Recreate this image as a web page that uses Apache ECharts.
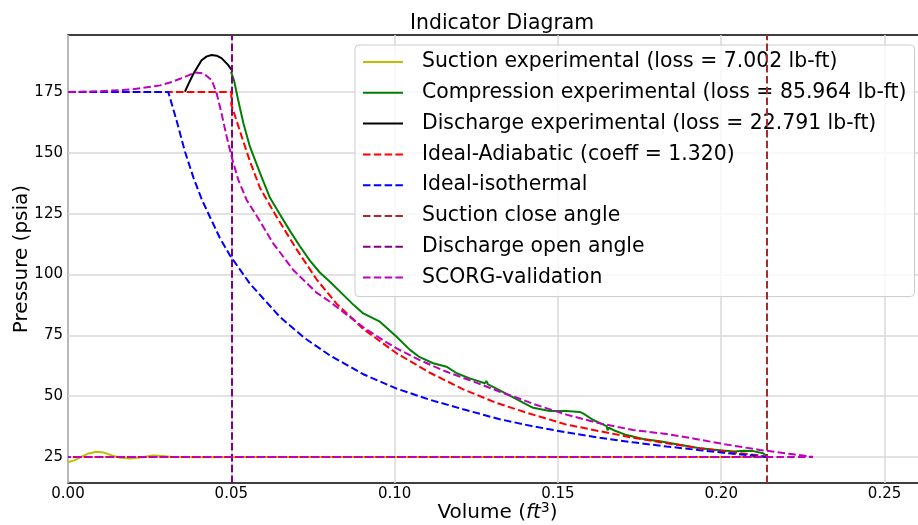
<!DOCTYPE html>
<html>
<head>
<meta charset="utf-8">
<script src="https://cdn.jsdelivr.net/npm/echarts@6/dist/echarts.min.js"></script>
<style>html,body{margin:0;padding:0;background:#fff}#c{width:918px;height:525px}</style>
</head>
<body>
<div id="c"></div>
<script>
// ---- data (volume ft^3, pressure psia) ----
const titleText = 'Indicator Diagram';
const seriesNames = [
  'Suction experimental (loss = 7.002 lb-ft)',
  'Compression experimental (loss = 85.964 lb-ft)',
  'Discharge experimental (loss = 22.791 lb-ft)',
  'Ideal-Adiabatic (coeff = 1.320)',
  'Ideal-isothermal',
  'Suction close angle',
  'Discharge open angle',
  'SCORG-validation'
];
const yTicks = [25, 50, 75, 100, 125, 150, 175];
const xTicks = [0, 0.05, 0.10, 0.15, 0.20, 0.25];

const suctionExp = [[0,22.9],[0.002,23.6],[0.004,25.0],[0.006,26.3],[0.0088,27.1],[0.011,26.8],[0.0135,25.6],[0.016,24.7],[0.019,24.4],[0.022,24.8],[0.026,25.6],[0.029,25.4],[0.032,25.0],[0.04,24.9],[0.06,25.0],[0.10,25.0],[0.15,25.0],[0.2139,25.0]];

const compressionExp = [[0.0499,183.3],[0.0508,179.9],[0.0521,171.7],[0.0537,162.1],[0.0557,152.5],[0.0588,141.6],[0.0618,131.6],[0.0649,124.6],[0.0680,117.8],[0.0710,111.6],[0.0740,105.8],[0.0771,100.8],[0.0802,97.0],[0.0843,91.6],[0.0875,87.4],[0.0904,84.0],[0.0955,80.6],[0.1006,74.4],[0.1047,69.0],[0.1077,66.0],[0.1118,63.5],[0.1159,62.1],[0.1190,59.4],[0.1230,57.3],[0.1276,55.3],[0.1281,56.2],[0.1286,54.8],[0.1322,52.4],[0.1373,48.8],[0.1424,45.2],[0.1475,43.9],[0.1526,43.9],[0.1567,43.5],[0.1577,42.9],[0.1608,40.2],[0.1649,37.7],[0.1652,36.0],[0.1656,37.0],[0.1669,36.1],[0.1710,34.0],[0.1761,32.4],[0.1812,31.5],[0.1873,30.0],[0.1934,28.6],[0.1996,27.8],[0.2040,27.2],[0.2070,27.6],[0.2098,27.4],[0.2128,26.5],[0.2139,25.5]];

const dischargeExp = [[0.0358,175.1],[0.0370,178.6],[0.0384,182.5],[0.0409,188.0],[0.0425,189.6],[0.0440,190.2],[0.0455,189.9],[0.0470,188.9],[0.0490,186.1],[0.0501,184.0]];

const adiabatic = [[0,175],[0.05,175],[0.05,169.8],[0.0532,156.6],[0.0557,146.5],[0.0588,135.5],[0.0639,123.6],[0.0700,110.3],[0.0761,98.0],[0.0822,88.0],[0.0873,81.6],[0.0904,77.6],[0.1006,67.6],[0.1108,59.6],[0.1210,52.8],[0.1312,47.2],[0.1404,43.2],[0.1526,38.3],[0.1628,35.6],[0.1730,32.9],[0.1833,30.6],[0.1934,28.6],[0.2016,27.2],[0.2118,25.6],[0.2139,25.0],[0,25.0]];

const isothermal = [[0,175],[0.0307,175],[0.0333,163.0],[0.0358,150.5],[0.0384,139.8],[0.0409,131.0],[0.0435,123.5],[0.0465,115.0],[0.0496,107.8],[0.0557,96.2],[0.0649,82.5],[0.0725,73.8],[0.0802,66.7],[0.0904,59.0],[0.1006,53.1],[0.1108,48.5],[0.1210,44.6],[0.1322,40.5],[0.1424,37.6],[0.1526,35.1],[0.1628,32.9],[0.1730,31.0],[0.1833,29.3],[0.1934,27.8],[0.2016,26.6],[0.2118,25.3],[0.2139,25.0]];

const suctionCloseV = 0.2138;
const dischargeOpenV = 0.0501;

const scorg = [[0,175.0],[0.010,175.3],[0.0199,176.1],[0.0282,177.7],[0.0320,179.2],[0.0343,180.4],[0.0363,181.5],[0.0389,183.0],[0.0414,182.7],[0.0440,179.9],[0.0455,174.5],[0.0470,166.2],[0.0486,156.6],[0.0501,148.4],[0.0521,139.0],[0.0547,130.6],[0.0578,124.0],[0.0628,112.8],[0.0690,101.8],[0.0761,92.5],[0.0802,88.8],[0.0853,83.5],[0.0904,78.3],[0.0955,73.8],[0.1006,69.6],[0.1077,64.8],[0.1159,60.0],[0.1241,56.0],[0.1322,51.8],[0.1394,48.4],[0.1424,46.8],[0.1526,42.4],[0.1628,38.8],[0.1730,36.1],[0.1833,34.4],[0.1914,32.6],[0.2016,30.1],[0.2118,27.9],[0.2220,26.1],[0.2281,25.0],[0,25.0]];

// ---- styles ----
const FONT = 'DejaVu Sans';
const colors = ['#bfbf00','#008000','#000000','#ff0000','#0000ff','#a52a2a','#800080','#bf00bf'];
const DASH = [7.5, 3.3];

function lineSeries(i, data, dashed, width) {
  return {
    name: seriesNames[i], type: 'line', data: data,
    showSymbol: false, symbol: 'none', smooth: false, silent: true,
    lineStyle: { color: colors[i], width: width, type: dashed ? DASH : 'solid' },
    itemStyle: { color: colors[i] },
    z: 2 + i
  };
}
function vlineSeries(i, xv) {
  return {
    name: seriesNames[i], type: 'line', data: [],
    symbol: 'none', silent: true,
    lineStyle: { color: colors[i], width: 2, type: DASH },
    itemStyle: { color: colors[i] },
    z: 2 + i,
    markLine: {
      symbol: 'none', silent: true, animation: false, precision: 5,
      label: { show: false },
      lineStyle: { color: colors[i], width: 2, type: DASH },
      data: [{ xAxis: xv }]
    }
  };
}

const chart = echarts.init(document.getElementById('c'), null, { renderer: 'canvas' });
chart.setOption({
  animation: false,
  backgroundColor: '#ffffff',
  title: {
    text: titleText, left: 405, top: 9,
    textStyle: { fontFamily: FONT, fontSize: 20.4, fontWeight: 'normal', color: '#000' }
  },
  grid: {
    left: 68, top: 35, right: -9, bottom: 42,
    containLabel: false, outerBoundsMode: 'none',
    show: true, borderColor: '#000', borderWidth: 1.3, backgroundColor: 'transparent'
  },
  legend: {
    orient: 'vertical', left: 355, top: 45,
    padding: [7, 8, 9, 7],
    itemWidth: 40, itemHeight: 14, itemGap: 10.8,
    selectedMode: false,
    backgroundColor: 'rgba(255,255,255,0.8)',
    borderColor: '#cccccc', borderWidth: 1, borderRadius: 4,
    itemStyle: { opacity: 0, borderWidth: 0 },
    textStyle: { fontFamily: FONT, fontSize: 20.4, color: '#000', lineHeight: 20, padding: [0, 0, 0, 14] },
    data: seriesNames
  },
  xAxis: {
    type: 'value', min: 0, max: 0.263, interval: 0.05,
    name: 'Volume ({i|ft}{s|3})', nameLocation: 'middle', nameGap: 18, nameMoveOverlap: false,
    nameTextStyle: {
      fontFamily: FONT, fontSize: 20, color: '#000', lineHeight: 24,
      rich: {
        i: { fontFamily: FONT, fontSize: 20, fontStyle: 'italic', color: '#000', lineHeight: 24 },
        s: { fontFamily: FONT, fontSize: 14, color: '#000', verticalAlign: 'top', lineHeight: 12 }
      }
    },
    axisLine: { show: false }, axisTick: { show: false },
    axisLabel: { fontFamily: FONT, fontSize: 15, color: '#000', margin: 4,
      formatter: v => v.toFixed(2), showMaxLabel: false },
    splitLine: { show: true, lineStyle: { color: '#d9d9d9', width: 1.5 } }
  },
  yAxis: {
    type: 'value', min: 14.3, max: 198.4,
    name: 'Pressure (psia)', nameLocation: 'middle', nameGap: 36, nameRotate: 90, nameMoveOverlap: false,
    nameTextStyle: { fontFamily: FONT, fontSize: 20, color: '#000' },
    axisLine: { show: false },
    axisTick: { show: false, customValues: yTicks },
    axisLabel: { fontFamily: FONT, fontSize: 15, color: '#000', margin: 5, customValues: yTicks },
    splitLine: { show: true, lineStyle: { color: '#d9d9d9', width: 1.5 } }
  },
  series: [
    lineSeries(0, suctionExp, false, 2),
    lineSeries(1, compressionExp, false, 2),
    lineSeries(2, dischargeExp, false, 2),
    lineSeries(3, adiabatic, true, 2),
    lineSeries(4, isothermal, true, 2),
    vlineSeries(5, suctionCloseV),
    vlineSeries(6, dischargeOpenV),
    lineSeries(7, scorg, true, 2)
  ]
});
</script>
</body>
</html>
